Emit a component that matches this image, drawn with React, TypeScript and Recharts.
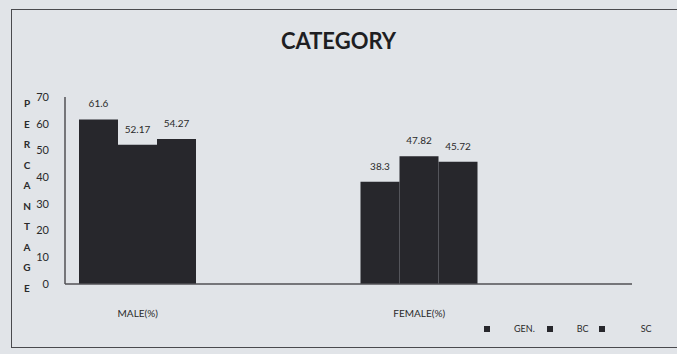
import { BarChart, Bar, XAxis, YAxis, LabelList } from 'recharts';

const categories = ['MALE(%)', 'FEMALE(%)'];
const genValues = [61.6, 38.3];
const bcValues = [52.17, 47.82];
const scValues = [54.27, 45.72];
const seriesNames = ['GEN.', 'BC', 'SC'];
const yTicks = [0, 10, 20, 30, 40, 50, 60, 70];
const axisTitle = 'PERCANTAGE';

const data = categories.map((name, i) => ({
  name,
  gen: genValues[i],
  bc: bcValues[i],
  sc: scValues[i],
}));

const BAR_COLOR = '#27272c';
const FONT = 'Lato, "Open Sans", sans-serif';

// stacked letters for the y axis title
const StackedTitle = () => (
  <text x={27} y={107} fill="#2a2a2a" fontSize={10} fontWeight={700} fontFamily={FONT} textAnchor="middle">
    {axisTitle.split('').map((ch, i) => (
      <tspan key={i} x={27} dy={i === 0 ? 0 : 20.5}>
        {ch}
      </tspan>
    ))}
  </text>
);

export default function App() {
  const keys = ['gen', 'bc', 'sc'];

  return (
    <div
      style={{
        position: 'fixed',
        left: 0,
        top: 0,
        width: 677,
        height: 354,
        background: '#e1e4e8',
        fontFamily: FONT,
        overflow: 'hidden',
      }}
    >
      <div
        style={{
          position: 'absolute',
          left: 11,
          top: 9,
          width: 700,
          height: 337,
          border: '1.5px solid #4a4a4e',
        }}
      />
      <div
        style={{
          position: 'absolute',
          left: 0,
          width: 677,
          top: 27,
          textAlign: 'center',
          fontSize: 22,
          fontWeight: 700,
          color: '#1e1e22',
        }}
      >
        <span style={{ marginLeft: 0 }}>CATEGORY</span>
      </div>
      <div style={{ position: 'absolute', left: 0, top: 0 }}>
        <BarChart
          width={677}
          height={354}
          data={data}
          margin={{ top: 97, right: 45, left: 0, bottom: 0 }}
          barGap={0}
          barSize={39}
        >
          <XAxis
            dataKey="name"
            axisLine={{ stroke: '#505055', strokeWidth: 1.5 }}
            tickLine={false}
            height={70}
            padding={{ left: -68, right: 72 }}
            tick={{ fontSize: 10, fill: '#2a2a2a', fontFamily: FONT }}
            dy={18}
          />
          <YAxis
            domain={[0, 70]}
            ticks={yTicks}
            width={65}
            axisLine={{ stroke: '#505055', strokeWidth: 1.5 }}
            tickLine={false}
            tickMargin={10}
            tick={{ fontSize: 11, fill: '#2a2a2a', fontFamily: FONT }}
            label={{ content: () => <StackedTitle /> }}
          />
          {keys.map((k) => (
            <Bar key={k} dataKey={k} fill={BAR_COLOR} isAnimationActive={false}>
              <LabelList
                dataKey={k}
                position="top"
                offset={12}
                style={{ fontSize: 10, fill: '#2a2a2a', fontFamily: FONT }}
              />
            </Bar>
          ))}
        </BarChart>
      </div>
      {/* legend */}
      <div
        style={{
          position: 'absolute',
          top: 323,
          left: 484,
          display: 'flex',
          alignItems: 'center',
          fontSize: 9,
          color: '#2a2a2a',
        }}
      >
        {seriesNames.map((s, i) => (
          <div key={s} style={{ display: 'flex', alignItems: 'center', marginRight: i === 0 ? 12 : 10 }}>
            <span style={{ width: 6, height: 6, background: BAR_COLOR, display: 'inline-block', marginRight: i === 2 ? 36 : 24 }} />
            <span>{s}</span>
          </div>
        ))}
      </div>
    </div>
  );
}
